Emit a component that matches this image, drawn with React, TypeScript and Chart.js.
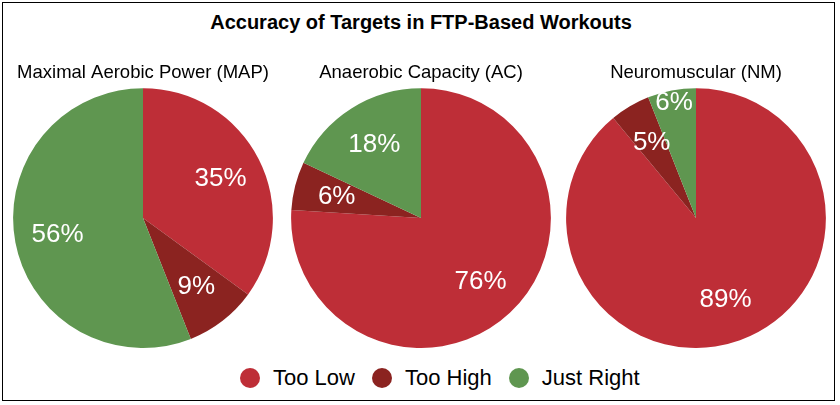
import React, { useEffect, useRef } from "react";
import { Chart, registerables } from "chart.js";

Chart.register(...registerables);

const mainTitle = "Accuracy of Targets in FTP-Based Workouts";
const categories = ["Too Low", "Too High", "Just Right"];
const categoryColors = ["#BE2E37", "#8B2320", "#5F9650"];
const pieTitles = ["Maximal Aerobic Power (MAP)", "Anaerobic Capacity (AC)", "Neuromuscular (NM)"];
const mapValues = [35, 9, 56];
const acValues = [76, 6, 18];
const nmValues = [89, 5, 6];
const pieValues = [mapValues, acValues, nmValues];

const FONT = "'Liberation Sans', Arial, Helvetica, sans-serif";
const pieCenters = [143, 421, 696];

const sliceLabels = {
  id: "sliceLabels",
  afterDatasetsDraw(chart: any) {
    const ctx = chart.ctx;
    const meta = chart.getDatasetMeta(0);
    const data = chart.data.datasets[0].data as number[];
    ctx.save();
    ctx.font = `26px ${FONT}`;
    ctx.fillStyle = "#ffffff";
    ctx.textAlign = "center";
    ctx.textBaseline = "middle";
    const boxes: { x: number; y: number; w: number; h: number }[] = [];
    meta.data.forEach((arc: any, i: number) => {
      const p = arc.getProps(["x", "y", "startAngle", "endAngle", "outerRadius"], true);
      const mid = (p.startAngle + p.endAngle) / 2;
      const text = `${data[i]}%`;
      const w = ctx.measureText(text).width;
      const h = 24;
      let f = 0.67;
      let x = p.x + Math.cos(mid) * p.outerRadius * f;
      let y = p.y + Math.sin(mid) * p.outerRadius * f;
      const overlaps = (bx: number, by: number) =>
        boxes.some((b) => Math.abs(b.x - bx) < (b.w + w) / 2 && Math.abs(b.y - by) < (b.h + h) / 2);
      if (overlaps(x, y)) {
        f = 0.9;
        x = p.x + Math.cos(mid) * p.outerRadius * f;
        y = p.y + Math.sin(mid) * p.outerRadius * f;
      }
      boxes.push({ x, y, w, h });
      ctx.fillText(text, x, y);
    });
    ctx.restore();
  },
};

function PieChart({ idx }: { idx: number }) {
  const ref = useRef<HTMLCanvasElement | null>(null);
  useEffect(() => {
    if (!ref.current) return;
    const chart = new Chart(ref.current, {
      type: "pie",
      data: {
        labels: categories,
        datasets: [
          {
            data: pieValues[idx],
            backgroundColor: categoryColors,
            borderWidth: 0,
            hoverOffset: 0,
          },
        ],
      },
      options: {
        responsive: false,
        maintainAspectRatio: false,
        animation: false,
        layout: { padding: 0 },
        plugins: {
          legend: { display: false },
          tooltip: { enabled: false },
          title: {
            display: true,
            text: pieTitles[idx],
            color: "#000000",
            font: { family: FONT, size: 18.5, weight: "normal" },
            padding: { top: 4, bottom: 4 },
          },
        },
      },
      plugins: [sliceLabels],
    });
    return () => chart.destroy();
  }, [idx]);
  return (
    <canvas
      ref={ref}
      width={276}
      height={290}
      style={{ position: "absolute", left: pieCenters[idx] - 138, top: 58, width: 276, height: 290 }}
    />
  );
}

export default function App() {
  useEffect(() => {
    document.body.style.margin = "0";
  }, []);
  return (
    <div style={{ position: "absolute", left: 0, top: 0, width: 840, height: 405, background: "#fff", fontFamily: FONT }}>
      <div
        style={{
          position: "absolute",
          left: 2,
          top: 2,
          width: 833,
          height: 399,
          border: "1.5px solid #000",
          boxSizing: "border-box",
        }}
      />
      <div
        style={{
          position: "absolute",
          left: 0,
          top: 10,
          width: 842,
          textAlign: "center",
          fontSize: 20,
          lineHeight: "24px",
          fontWeight: "bold",
          color: "#000",
        }}
      >
        {mainTitle}
      </div>
      {pieValues.map((_, i) => (
        <PieChart key={i} idx={i} />
      ))}
      <div
        style={{
          position: "absolute",
          left: 240,
          top: 365,
          height: 26,
          display: "flex",
          alignItems: "center",
          fontSize: 22,
          color: "#000",
        }}
      >
        {categories.map((c, i) => (
          <div key={c} style={{ display: "flex", alignItems: "center", marginRight: 17 }}>
            <span
              style={{
                display: "inline-block",
                width: 20,
                height: 20,
                borderRadius: "50%",
                background: categoryColors[i],
                marginRight: 13,
              }}
            />
            <span style={{ lineHeight: "26px" }}>{c}</span>
          </div>
        ))}
      </div>
    </div>
  );
}
